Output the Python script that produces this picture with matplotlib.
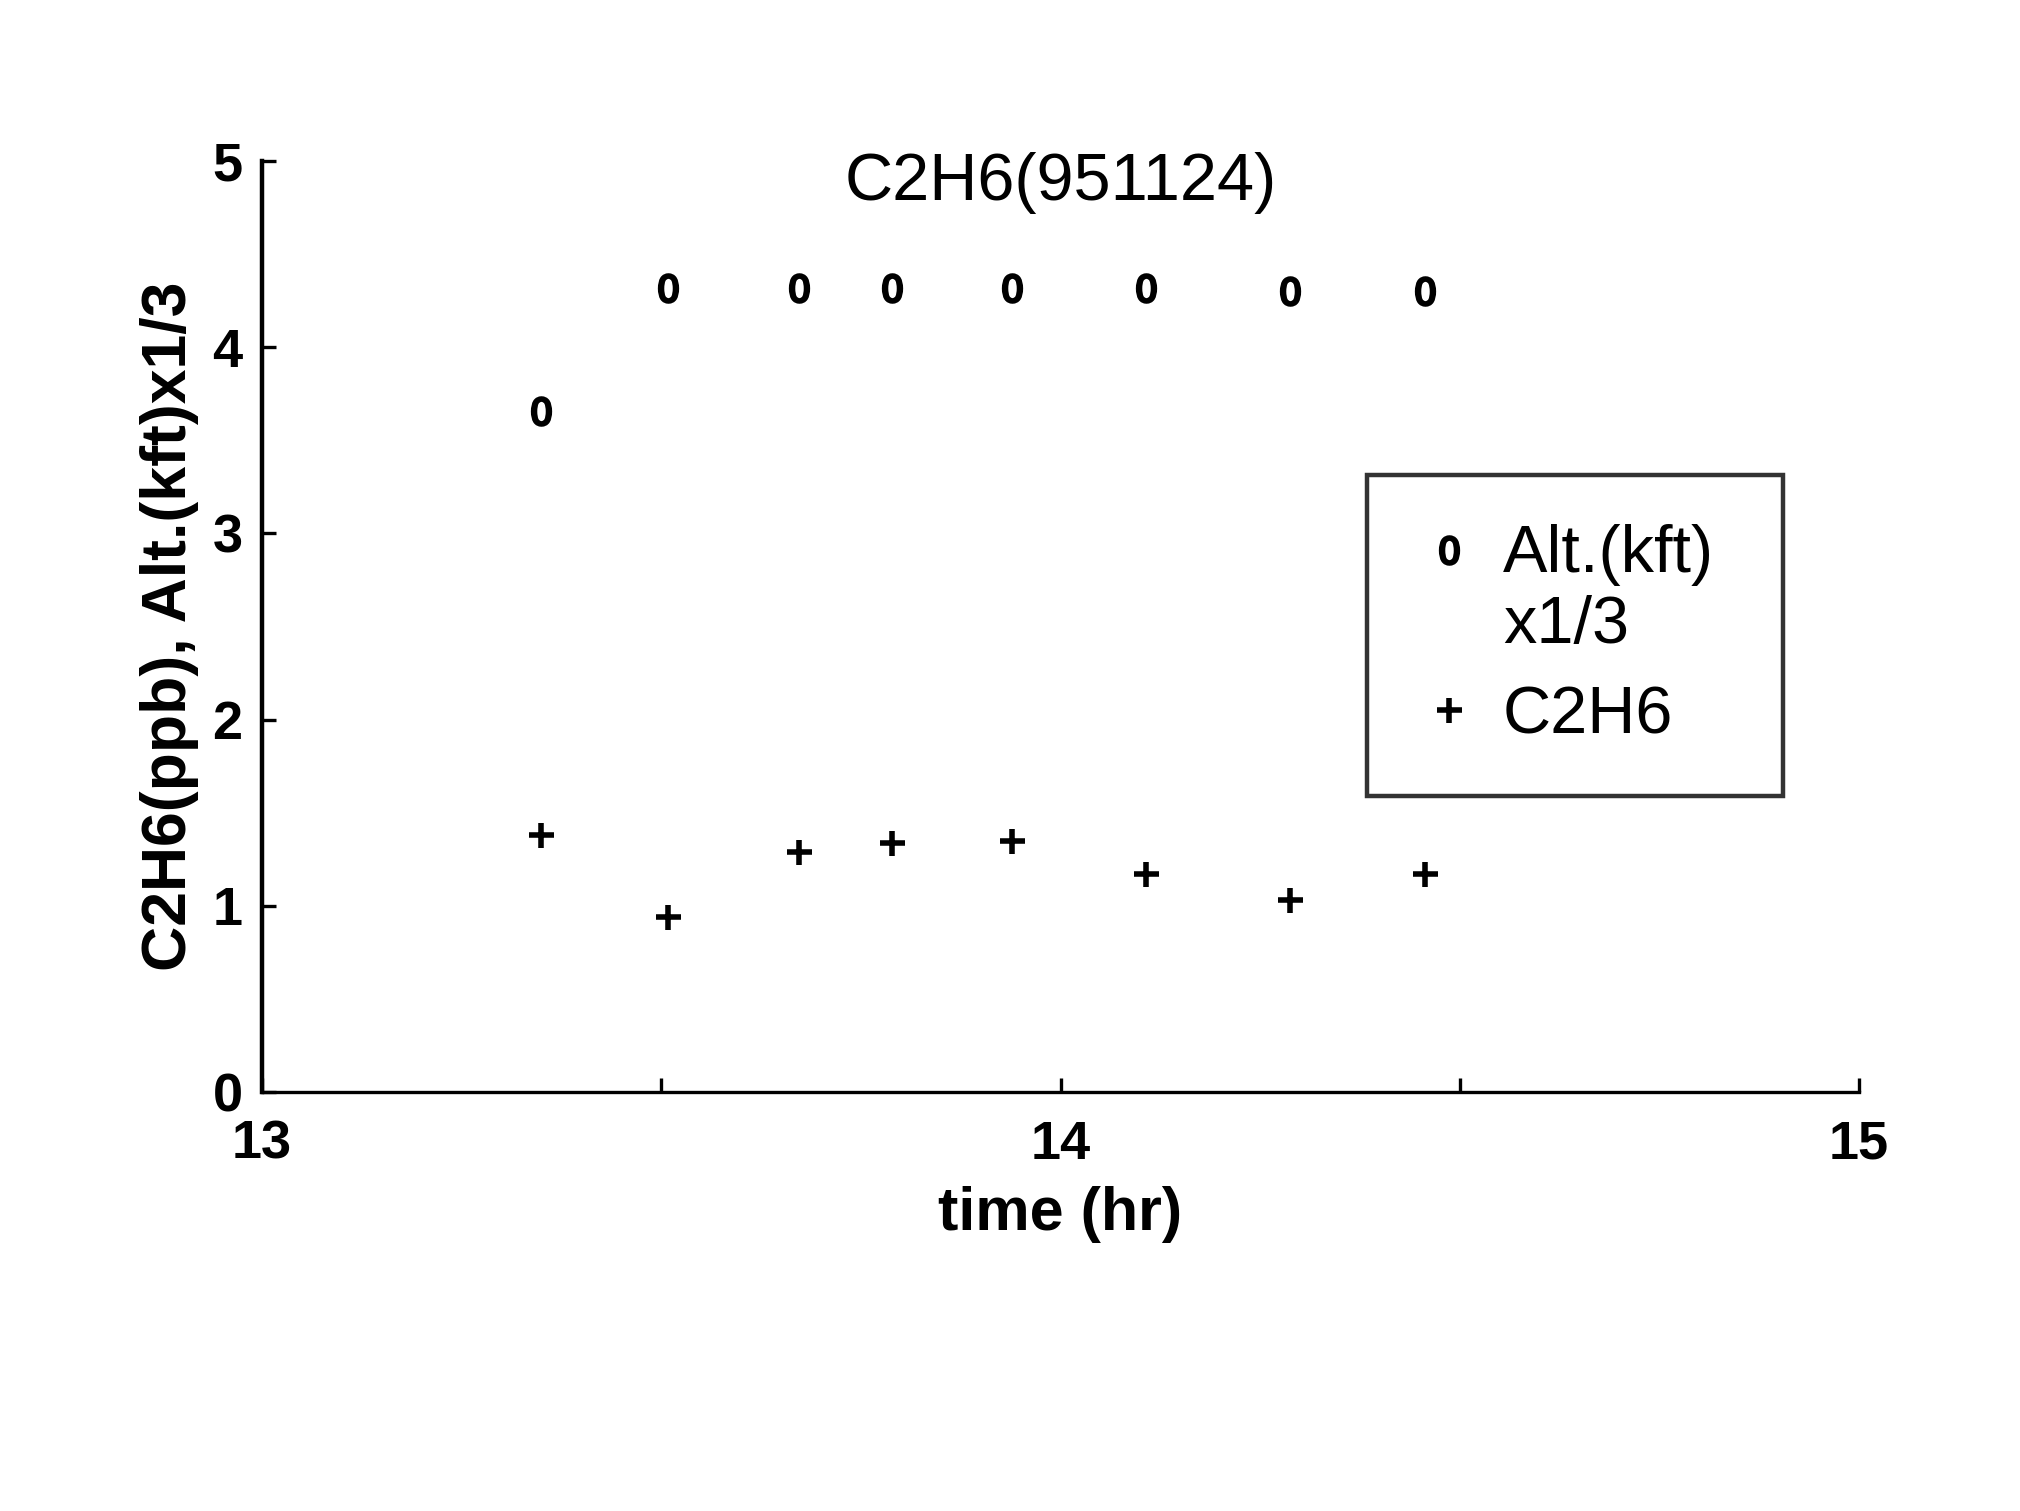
import numpy as np
import matplotlib
matplotlib.use('Agg')
import matplotlib.pyplot as plt
from matplotlib.legend_handler import HandlerLine2D

plt.rcParams['font.family'] = ['Liberation Sans', 'DejaVu Sans']

# flight times (hr) and values
time_hr = [13.35, 13.508, 13.672, 13.789, 13.939, 14.107, 14.287, 14.457]
alt_kft_third = [3.66, 4.32, 4.32, 4.32, 4.32, 4.32, 4.30, 4.30]
c2h6_ppb = [1.38, 0.94, 1.29, 1.34, 1.35, 1.17, 1.03, 1.17]

x_ticks = [13, 14, 15]
x_minor = [13.5, 14.5]
y_ticks = [0, 1, 2, 3, 4, 5]


class TopLineHandler(HandlerLine2D):
    # put the marker next to the first line of a two-line label
    def create_artists(self, legend, orig_handle, xdescent, ydescent,
                       width, height, fontsize, trans):
        arts = super().create_artists(legend, orig_handle, xdescent, ydescent,
                                      width, height, fontsize, trans)
        for a in arts:
            a.set_ydata(np.asarray(a.get_ydata()) + 0.62 * fontsize)
        return arts


fig = plt.figure(figsize=(10.1, 7.555), dpi=200)
ax = fig.add_axes([0.1297, 0.2773, 0.7906, 0.6161])

alt_line, = ax.plot(time_hr, alt_kft_third, linestyle='none', marker='$0$', markersize=10,
                    color='black', markeredgewidth=1.0, clip_on=False, label='Alt.(kft)\nx1/3')
ax.plot(time_hr, c2h6_ppb, linestyle='none', marker='+', markersize=9,
        markeredgewidth=2.0, color='black', clip_on=False, label='C2H6')

ax.set_xlim(13, 15)
ax.set_ylim(0, 5)
for s in ['top', 'right']:
    ax.spines[s].set_visible(False)
ax.spines['left'].set_linewidth(1.6)
ax.spines['bottom'].set_linewidth(1.2)

ax.set_xticks(x_ticks)
ax.set_xticks(x_minor, minor=True)
ax.set_yticks(y_ticks)
ax.tick_params(axis='both', which='both', direction='in', length=5, width=1.2)
ax.tick_params(axis='x', which='major', pad=10, labelsize=19.5)
ax.tick_params(axis='y', pad=7, labelsize=19.5)
for lab in ax.get_xticklabels() + ax.get_yticklabels():
    lab.set_fontweight('bold')

ax.set_xlabel('time (hr)', fontsize=22, fontweight='bold', labelpad=6)
ax.set_ylabel('C2H6(ppb), Alt.(kft)x1/3', fontsize=22.5, fontweight='bold', labelpad=5)
ax.text(14.0, 4.88, 'C2H6(951124)', fontsize=24, ha='center', va='center')

x0, x1 = 1367 / 2020, 1783 / 2020
y_top = 1 - 475 / 1511
leg = ax.legend(loc='upper left', bbox_to_anchor=(x0, y_top - 0.2, x1 - x0, 0.2),
                bbox_transform=fig.transFigure, mode='expand', borderaxespad=0,
                fontsize=24, frameon=True, fancybox=False, edgecolor='black',
                handlelength=1.0, handletextpad=0.31, borderpad=0.73, labelspacing=0.42,
                handler_map={alt_line: TopLineHandler()})
leg.get_frame().set_linewidth(1.6)

fig.savefig('out.png', dpi=200, facecolor='white')
